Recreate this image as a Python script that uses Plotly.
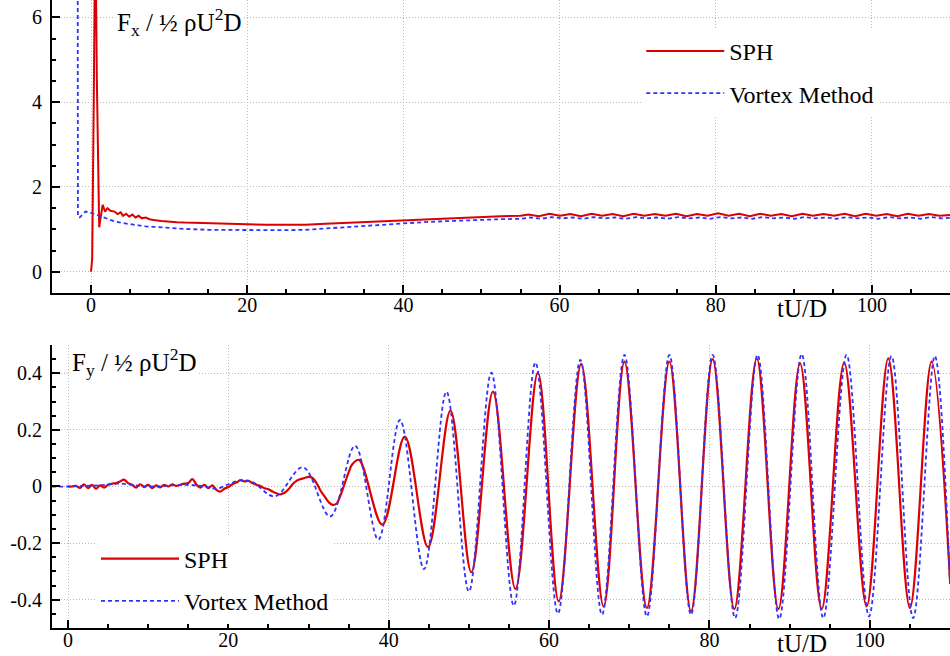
import plotly.graph_objects as go

# ---------------- Top panel: Fx / (1/2 rho U^2 D) ----------------
fx_sph_t = [0, 0.15, 0.35, 0.55, 0.75, 0.95, 1.05, 1.25, 1.5, 1.8, 2.1, 2.5, 3.0, 3.4, 3.8, 4.1, 4.5,
            4.9, 5.3, 5.7, 6.1, 6.5, 7.0, 7.5, 8.0, 9.0, 10.0, 11.0, 12.0, 13.5, 15.0, 17.0, 20.0,
            22.5, 25.0, 27.5, 30.0, 32.5, 35.0, 37.5, 40.0, 42.5, 45.0, 47.5, 50.0, 52.5, 55.0,
            56.0, 57.35, 58.7, 60.05, 61.4, 62.75, 64.1, 65.45, 66.8, 68.15, 69.5, 70.85, 72.2,
            73.55, 74.9, 76.25, 77.6, 78.95, 80.3, 81.65, 83.0, 84.35, 85.7, 87.05, 88.4, 89.75,
            91.1, 92.45, 93.8, 95.15, 96.5, 97.85, 99.2, 100.55, 101.9, 103.25, 104.6, 105.95,
            107.3, 108.65, 110.0]
fx_sph_v = [0, 0.3, 4.0, 8.5, 4.5, 1.2, 1.05, 1.3, 1.58, 1.42, 1.5, 1.44, 1.42, 1.36, 1.40, 1.32, 1.37,
            1.30, 1.35, 1.28, 1.32, 1.26, 1.28, 1.24, 1.22, 1.20, 1.18, 1.17, 1.16, 1.15, 1.14, 1.13, 1.12,
            1.11, 1.11, 1.11, 1.13, 1.15, 1.17, 1.20, 1.22, 1.24, 1.26, 1.28, 1.30, 1.31, 1.32,
            1.35, 1.31, 1.37, 1.32, 1.36, 1.31, 1.37, 1.32, 1.36, 1.31, 1.37, 1.32, 1.36,
            1.32, 1.37, 1.31, 1.36, 1.32, 1.38, 1.32, 1.37, 1.31, 1.37, 1.32, 1.36, 1.31,
            1.37, 1.32, 1.36, 1.32, 1.37, 1.31, 1.37, 1.32, 1.36, 1.31, 1.37, 1.32,
            1.36, 1.32, 1.34]

fx_vm_t = [-1.72, -1.68, -1.45, -1.0, -0.7, -0.3, 0, 0.5, 1.0, 1.5, 2.0, 3.0, 4.0, 5.0, 6.0, 7.0, 8.0,
           10.0, 12.0, 15.0, 18.0, 20.0, 22.5, 25.0, 27.5, 30.0, 32.5, 35.0, 37.5, 40.0, 42.5, 45.0,
           47.5, 50.0, 52.5, 55.0,
           56.3, 57.65, 59.0, 60.35, 61.7, 63.05, 64.4, 65.75, 67.1, 68.45, 69.8, 71.15, 72.5,
           73.85, 75.2, 76.55, 77.9, 79.25, 80.6, 81.95, 83.3, 84.65, 86.0, 87.35, 88.7, 90.05,
           91.4, 92.75, 94.1, 95.45, 96.8, 98.15, 99.5, 100.85, 102.2, 103.55, 104.9, 106.25,
           107.6, 108.95, 110.0]
fx_vm_v = [12.0, 1.3, 1.28, 1.38, 1.42, 1.41, 1.39, 1.36, 1.32, 1.28, 1.25, 1.19, 1.15, 1.12, 1.09, 1.07, 1.06,
           1.03, 1.01, 0.99, 0.985, 0.98, 0.98, 0.98, 0.99, 1.02, 1.05, 1.09, 1.12, 1.15, 1.17, 1.19,
           1.21, 1.23, 1.24, 1.25,
           1.28, 1.25, 1.29, 1.26, 1.28, 1.25, 1.29, 1.26, 1.28, 1.25, 1.29, 1.26, 1.28,
           1.25, 1.29, 1.26, 1.28, 1.25, 1.29, 1.26, 1.28, 1.25, 1.29, 1.26, 1.28, 1.25,
           1.29, 1.26, 1.28, 1.25, 1.29, 1.26, 1.28, 1.25, 1.29, 1.26, 1.28, 1.25,
           1.29, 1.26, 1.27]

# ---------------- Bottom panel: Fy / (1/2 rho U^2 D) ----------------
fy_sph_t = [0, 0.5, 1.0, 1.5, 2.0, 2.5, 3.0, 3.5, 4.0, 4.5, 5.0, 5.5, 6.0, 6.5, 7.0, 7.5, 8.0, 8.5,
            9.0, 9.5, 10.0, 10.5, 11.0, 11.5, 12.0, 12.5, 13.0, 13.5, 14.0, 14.5, 15.0, 15.5, 16.0,
            16.5, 17.0, 17.5, 18.0, 18.5, 19.0, 19.5, 20.0, 20.5, 21.0, 21.5, 22.0, 22.5, 23.0,
            23.5, 24.0, 24.5, 25.0, 25.5, 26.0, 26.5, 27.0, 27.5, 28.0, 28.5, 29.0, 29.5, 30.0,
            30.5, 31.0, 31.5, 32.0, 32.5, 33.0, 33.5, 34.0, 34.5, 35.0, 35.5, 36.3,
            39.2, 42.0, 44.9, 47.7, 50.3, 53.0, 55.8, 58.6, 61.2, 64.0, 66.8, 69.4, 72.2, 75.0,
            77.7, 80.4, 83.1, 85.9, 88.6, 91.3, 94.0, 96.8, 99.6, 102.3, 105.0, 107.7, 110.0]
fy_sph_v = [0, 0.0, 0.002, -0.005, 0.008, -0.006, 0.006, -0.008, 0.004, -0.004, 0.006, 0.01, 0.012,
            0.018, 0.024, 0.012, 0.006, -0.004, 0.008, -0.002, 0.006, -0.006, 0.004, -0.003, 0.006,
            0.0, 0.008, 0.002, 0.006, 0.01, 0.012, 0.026, 0.008, -0.004, 0.006, -0.006, 0.004,
            -0.012, -0.018, -0.008, -0.002, 0.008, 0.014, 0.022, 0.018, 0.02, 0.012, 0.006, 0.002,
            -0.006, -0.01, -0.018, -0.024, -0.028, -0.022, -0.01, 0.008, 0.02, 0.026, 0.03, 0.034,
            0.03, 0.012, -0.015, -0.035, -0.055, -0.065, -0.06, -0.03, 0.01, 0.05, 0.08, 0.094,
            -0.135, 0.176, -0.214, 0.268, -0.303, 0.335, -0.362, 0.402, -0.406, 0.433, -0.424, 0.441,
            -0.429, 0.441, -0.441, 0.45, -0.433, 0.453, -0.433, 0.435, -0.433, 0.438, -0.424, 0.453,
            -0.429, 0.441, -0.33]

fy_vm_t = [-2, 0, 2, 4, 6.5, 9, 11, 13, 15, 17, 18.5, 20, 21.5, 23, 25.8, 29.3, 32.7, 35.8, 38.7,
           41.4, 44.4, 47.2, 50.0, 52.8, 55.6, 58.3, 61.1, 63.9, 66.6, 69.4, 72.2, 75.0, 77.7, 80.4,
           83.2, 86.0, 88.7, 91.5, 94.2, 97.1, 99.9, 102.7, 105.4, 108.1, 110.0]
fy_vm_v = [0, 0, 0.002, 0.004, 0.01, 0.002, 0.0, 0.004, 0.006, 0.0, -0.008, 0.008, 0.022, 0.016,
           -0.035, 0.068, -0.106, 0.144, -0.188, 0.235, -0.292, 0.335, -0.371, 0.402, -0.421, 0.438,
           -0.449, 0.447, -0.453, 0.465, -0.459, 0.465, -0.453, 0.465, -0.465, 0.465, -0.468, 0.468,
           -0.465, 0.465, -0.459, 0.461, -0.465, 0.461, -0.35]

fy_tickvals = [-0.4, -0.2, 0, 0.2, 0.4]
fy_ticktext = ["-0.4", "-0.2", "0", "0.2", "0.4"]

SERIF = "Liberation Serif"
RED = "rgb(220,0,0)"
BLUE = "rgb(50,50,255)"

fig = go.Figure()
fig.add_trace(go.Scatter(x=fx_sph_t, y=fx_sph_v, mode="lines", name="SPH",
                         line=dict(color=RED, width=2), xaxis="x", yaxis="y",
                         legend="legend", legendgroup="a"))
fig.add_trace(go.Scatter(x=fx_vm_t, y=fx_vm_v, mode="lines", name="Vortex Method",
                         line=dict(color=BLUE, width=1.8, dash="4px,3px"), xaxis="x", yaxis="y",
                         legend="legend", legendgroup="b"))
fig.add_trace(go.Scatter(x=fy_sph_t, y=fy_sph_v, mode="lines", name="SPH",
                         line=dict(color=RED, width=2.2, shape="spline", smoothing=1),
                         xaxis="x2", yaxis="y2", legend="legend2", legendgroup="c"))
fig.add_trace(go.Scatter(x=fy_vm_t, y=fy_vm_v, mode="lines", name="Vortex Method",
                         line=dict(color=BLUE, width=1.8, dash="4px,3px", shape="spline", smoothing=1),
                         xaxis="x2", yaxis="y2", legend="legend2", legendgroup="d"))

axis_common = dict(showline=True, linecolor="black", linewidth=2, ticks="inside", ticklen=8,
                   tickwidth=1.5, tickcolor="black", showgrid=True, gridcolor="#b8b8b8",
                   griddash="1px,2px", gridwidth=1, zeroline=False,
                   tickfont=dict(family=SERIF, size=20, color="black"), mirror=False)

legend_common = dict(font=dict(family=SERIF, size=24, color="black"), bgcolor="white",
                     traceorder="grouped", tracegroupgap=8, itemwidth=78,
                     xanchor="left", yanchor="top")

fig.update_layout(
    width=950, height=656, margin=dict(l=0, r=0, t=0, b=0),
    paper_bgcolor="white", plot_bgcolor="white",
    xaxis=dict(domain=[0.0547, 1], range=[-5, 110], anchor="y", dtick=20, tick0=0,
               ticklabelstandoff=-7,
               minor=dict(ticks="inside", ticklen=4, dtick=5, tick0=0, tickcolor="black", showgrid=False),
               **axis_common),
    yaxis=dict(domain=[0.5534, 1], range=[-0.5, 6.41], anchor="x", dtick=2, tick0=0,
               ticklabelstandoff=4,
               minor=dict(ticks="inside", ticklen=4, dtick=0.5, tick0=0, tickcolor="black", showgrid=False),
               **axis_common),
    xaxis2=dict(domain=[0.0547, 1], range=[-2, 110], anchor="y2", dtick=20, tick0=0,
                ticklabelstandoff=-7,
                minor=dict(ticks="inside", ticklen=4, dtick=5, tick0=0, tickcolor="black", showgrid=False),
                **axis_common),
    yaxis2=dict(domain=[0.0427, 0.4741], range=[-0.5, 0.5], anchor="x2",
                tickmode="array", tickvals=fy_tickvals, ticktext=fy_ticktext, ticklabelstandoff=4,
                minor=dict(ticks="inside", ticklen=4, tickmode="linear", dtick=0.05, tick0=0,
                           tickcolor="black", showgrid=False),
                **axis_common),
    legend=dict(x=0.675, y=0.956, **legend_common),
    legend2=dict(x=96 / 950, y=0.182, **legend_common),
    showlegend=True,
)

fig.add_annotation(text="F<sub>x</sub> / ½ ρU<sup>2</sup>D", xref="paper", yref="paper",
                   x=115 / 950, y=1 - 22 / 656, xanchor="left", yanchor="middle", showarrow=False,
                   bgcolor="white", font=dict(family=SERIF, size=25, color="black"))
fig.add_annotation(text="F<sub>y</sub> / ½ ρU<sup>2</sup>D", xref="paper", yref="paper",
                   x=70 / 950, y=1 - 362 / 656, xanchor="left", yanchor="middle", showarrow=False,
                   bgcolor="white", font=dict(family=SERIF, size=25, color="black"))
fig.add_annotation(text="tU/D", xref="paper", yref="paper", x=802 / 950, y=1 - 308 / 656,
                   xanchor="center", yanchor="middle", showarrow=False,
                   font=dict(family=SERIF, size=25, color="black"))
fig.add_annotation(text="tU/D", xref="paper", yref="paper", x=802 / 950, y=1 - 643 / 656,
                   xanchor="center", yanchor="middle", showarrow=False,
                   font=dict(family=SERIF, size=25, color="black"))

fig.write_html("out.html", config={"displayModeBar": False},
               post_script="document.body.style.margin='0px';")
